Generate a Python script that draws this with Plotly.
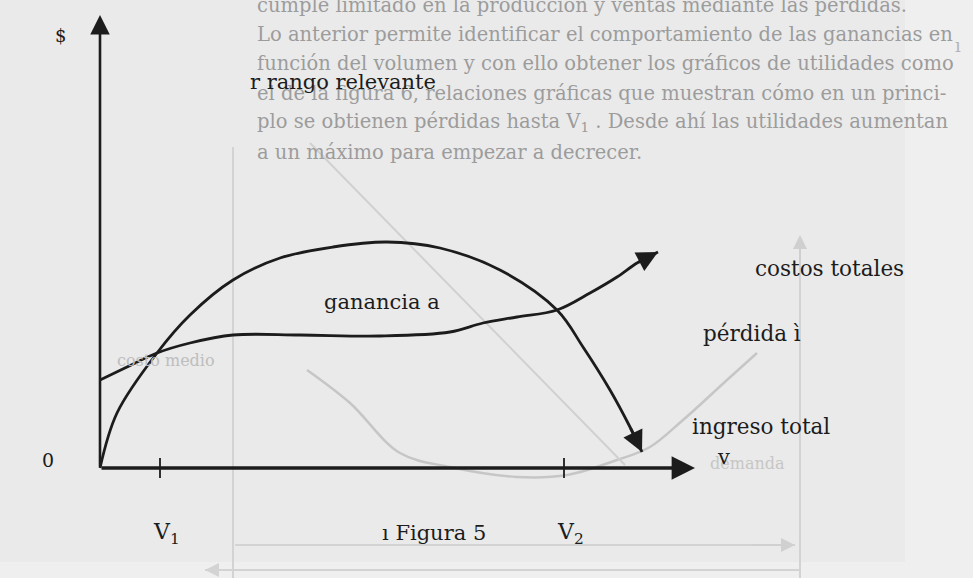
import plotly.graph_objects as go

# volume (v) and $ values
ingreso_v = [0, 0.34, 1.14, 1.8, 2.66, 3.6, 4.66, 5.74, 6.8, 8.0, 9.14, 9.66, 10.2, 10.6, 10.84]
ingreso_y = [0, 1.1, 2.3, 3.06, 3.76, 4.2, 4.42, 4.52, 4.4, 3.96, 3.16, 2.42, 1.56, 0.82, 0.32]

costo_v = [0, 0.54, 1.14, 1.8, 2.66, 4.0, 5.6, 7.0, 7.66, 8.34, 9.14, 9.8, 10.34, 10.74, 11.16]
costo_y = [1.76, 2.02, 2.3, 2.5, 2.66, 2.66, 2.64, 2.72, 2.9, 3.02, 3.16, 3.5, 3.82, 4.1, 4.32]

v_ticks = [1.2, 9.28]
v_labels = ["V<sub>1</sub>", "V<sub>2</sub>"]
eje_v_max = 11.9
eje_y_max = 9.06

# faint show-through from the other side of the page
sombra_u_v = [4.14, 5.0, 6.0, 7.0, 8.34, 9.34, 10.34, 11.0, 11.66, 12.54, 13.14]
sombra_u_y = [1.96, 1.3, 0.3, 0.02, -0.18, -0.14, 0.16, 0.42, 0.96, 1.76, 2.3]
sombra_diag_v = [4.2, 10.5]
sombra_diag_y = [6.5, 0.06]

parrafo = [
    "cumple limitado en la producción y ventas mediante las pérdidas.",
    "Lo anterior permite identificar el comportamiento de las ganancias en",
    "función del volumen y con ello obtener los gráficos de utilidades como",
    "el de la figura 6, relaciones gráficas que muestran cómo en un princi-",
    "plo se obtienen pérdidas hasta V<sub>1</sub> . Desde ahí las utilidades aumentan",
    "a un máximo para empezar a decrecer.",
]

INK = "#1c1c1c"
GHOST = "#c6c6c6"
SERIF = "DejaVu Serif"
BG = "#eaeaea"

fig = go.Figure()

# ghost marks
fig.add_trace(go.Scatter(x=sombra_u_v, y=sombra_u_y, mode="lines", line_shape="spline",
                         line=dict(color=GHOST, width=2.5), hoverinfo="skip"))
fig.add_trace(go.Scatter(x=sombra_diag_v, y=sombra_diag_y, mode="lines",
                         line=dict(color="#d0d0d0", width=2), hoverinfo="skip"))
fig.add_trace(go.Scatter(x=[2.66, 2.66, None, 14.0, 14.0, None, 2.7, 13.9, None, 2.1, 14.0],
                         y=[6.42, -2.3, None, 4.5, -2.3, None, -1.54, -1.54, None, -2.04, -2.04],
                         mode="lines", line=dict(color="#d3d3d3", width=2), hoverinfo="skip"))

# main curves
fig.add_trace(go.Scatter(x=ingreso_v, y=ingreso_y, mode="lines", line_shape="spline",
                         line=dict(color=INK, width=2.8), name="ingreso total"))
fig.add_trace(go.Scatter(x=costo_v, y=costo_y, mode="lines", line_shape="spline",
                         line=dict(color=INK, width=2.8), name="costos totales"))

# tick marks on the volume axis
tx, ty = [], []
for t in v_ticks:
    tx += [t, t, None]
    ty += [-0.2, 0.2, None]
fig.add_trace(go.Scatter(x=tx, y=ty, mode="lines", line=dict(color=INK, width=1.8), hoverinfo="skip"))

ann = []


def flecha(x0, y0, x1, y1, color=INK, w=2.8, size=1.5):
    ann.append(dict(x=x1, y=y1, ax=x0, ay=y0, xref="x", yref="y", axref="x", ayref="y",
                    text="", showarrow=True, arrowhead=2, arrowsize=size,
                    arrowwidth=w, arrowcolor=color))


# axes
flecha(0, 0, eje_v_max, 0, w=3.6, size=1.3)
flecha(0, 0, 0, eje_y_max, w=2.6, size=1.5)
# curve arrowheads
flecha(ingreso_v[-2], ingreso_y[-2], ingreso_v[-1], ingreso_y[-1])
flecha(costo_v[-2], costo_y[-2], costo_v[-1], costo_y[-1])
# ghost arrows
flecha(14.0, 4.0, 14.0, 4.66, color="#cfcfcf", w=2, size=1.4)
flecha(13.0, -1.54, 13.9, -1.54, color="#d0d0d0", w=2, size=1.4)
flecha(3.0, -2.04, 2.1, -2.04, color="#d3d3d3", w=2, size=1.4)


def texto(x, y, s, size=21, color=INK, anchor="left"):
    ann.append(dict(x=x, y=y, xref="x", yref="y", text=s, showarrow=False,
                    xanchor=anchor, yanchor="middle",
                    font=dict(family=SERIF, size=size, color=color)))


# faded paragraph at the top of the page
for i, linea in enumerate(parrafo):
    ann.append(dict(x=255 / 973, y=1 - (5 + 29.4 * i) / 578, xref="paper", yref="paper",
                    text=linea, showarrow=False, xanchor="left", yanchor="middle",
                    font=dict(family=SERIF, size=19.5, color="#9c9c9c")))
ann.append(dict(x=963 / 973, y=1 - 33 / 578, xref="paper", yref="paper", text="ı",
                showarrow=False, font=dict(family=SERIF, size=18, color="#b5b5b5")))

texto(1.32, 2.16, "costo medio", size=16, color="#bdbdbd", anchor="center")
texto(12.94, 0.1, "demanda", size=16, color="#c6c6c6", anchor="center")

texto(-0.8, 8.66, "$", size=18, anchor="center")
texto(2.96, 7.72, "r rango relevante", size=21)
texto(4.44, 3.32, "ganancia a", size=21)
texto(13.06, 4.0, "costos totales", size=21.5)
texto(12.02, 2.7, "pérdida ì", size=21.5)
texto(11.8, 0.84, "ingreso total", size=21.5)
texto(12.46, 0.22, "v", size=21, anchor="center")
texto(-1.04, 0.16, "0", size=19, anchor="center")
for t, lab in zip(v_ticks, v_labels):
    texto(t - 0.18, -1.3, lab, size=22)
texto(5.6, -1.3, "ı Figura 5", size=21)

fig.update_layout(
    width=973, height=578,
    margin=dict(l=0, r=0, t=0, b=0),
    paper_bgcolor=BG, plot_bgcolor=BG,
    showlegend=False,
    xaxis=dict(range=[-2.0, 17.46], visible=False, fixedrange=True),
    yaxis=dict(range=[-2.2, 9.36], visible=False, fixedrange=True),
    annotations=ann,
    shapes=[
        dict(type="rect", xref="paper", yref="paper", x0=905 / 973, x1=1, y0=0, y1=1,
             fillcolor="#efefef", line_width=0, layer="below"),
        dict(type="rect", xref="paper", yref="paper", x0=0, x1=1, y0=0, y1=1 - 562 / 578,
             fillcolor="#efefef", line_width=0, layer="below"),
    ],
)

fig.write_html("out.html", config={"displayModeBar": False},
               post_script="document.body.style.margin='0';document.body.style.background='%s';" % BG)
